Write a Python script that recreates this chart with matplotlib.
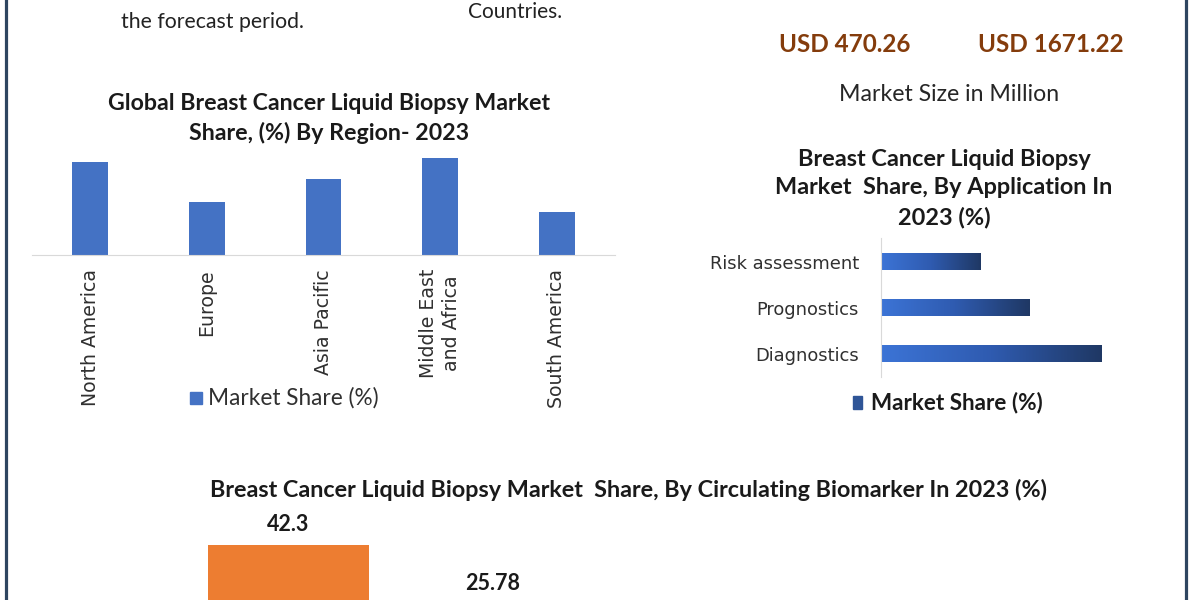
import matplotlib
matplotlib.use("Agg")
import matplotlib.pyplot as plt
import numpy as np
from matplotlib.colors import LinearSegmentedColormap
from matplotlib.patches import Rectangle
from matplotlib.lines import Line2D

# ---------------- data ----------------
region_names = ["North America", "Europe", "Asia Pacific", "Middle East\nand Africa", "South America"]
region_share = [25.7, 14.7, 21.0, 26.7, 11.9]

app_names = ["Diagnostics", "Prognostics", "Risk assessment"]
app_share = [47.1, 31.6, 21.3]

bio_values = [42.3, 25.78]
bio_labels = ["42.3", "25.78"]

W, H = 1200, 600
fig = plt.figure(figsize=(12, 6), dpi=100)
fig.patch.set_facecolor("white")

def fx(x):
    return x / W

def fy(y):
    return 1 - y / H

def axes_px(left, top, right, bottom):
    return fig.add_axes([fx(left), fy(bottom), (right - left) / W, (bottom - top) / H])

TITLE_FONT = "Lato"
BODY_FONT = "DejaVu Sans"

# ---------------- frame lines ----------------
border = "#2E4560"
fig.add_artist(Line2D([fx(6), fx(6)], [0, 1], color=border, lw=2.3))
fig.add_artist(Line2D([fx(1186), fx(1186)], [0, 1], color=border, lw=2.3))

# ---------------- header texts ----------------
fig.text(fx(121), fy(22), "the forecast period.", family=TITLE_FONT, fontsize=15.3,
         color="#222222", ha="left", va="center")
fig.text(fx(468), fy(12), "Countries.", family=TITLE_FONT, fontsize=15,
         color="#222222", ha="left", va="center")
fig.text(fx(845), fy(44), "USD 470.26", family=TITLE_FONT, fontweight="bold", fontsize=17.5,
         color="#843C0C", ha="center", va="center")
fig.text(fx(1051), fy(44), "USD 1671.22", family=TITLE_FONT, fontweight="bold", fontsize=17.5,
         color="#843C0C", ha="center", va="center")
fig.text(fx(949), fy(94), "Market Size in Million", family=TITLE_FONT, fontsize=16.7,
         color="#262626", ha="center", va="center")

# ---------------- region chart ----------------
fig.text(fx(329), fy(118.5), "Global Breast Cancer Liquid Biopsy Market\nShare, (%) By Region- 2023",
         family=TITLE_FONT, fontweight="bold", fontsize=16.7, color="#1a1a1a",
         ha="center", va="center", linespacing=1.4)

ax1 = axes_px(32, 140, 615, 255)
x1 = np.arange(len(region_names))
ax1.bar(x1, region_share, width=36 / 117, color="#4472C4")
ax1.set_xlim(-0.5, len(region_names) - 0.5)
ax1.set_ylim(0, 115 / 3.63)
for s in ["top", "right", "left"]:
    ax1.spines[s].set_visible(False)
ax1.spines["bottom"].set_color("#d9d9d9")
ax1.set_yticks([])
ax1.set_xticks(x1)
ax1.set_xticklabels(region_names, rotation=90, family=BODY_FONT, fontsize=13.6,
                    color="#303030", va="top", ha="center", linespacing=1.3)
ax1.tick_params(axis="x", length=0, pad=10)
ax1.set_facecolor("none")

fig.add_artist(Rectangle((fx(190), fy(404)), 12 / W, 12 / H, transform=fig.transFigure,
                         color="#4472C4"))
fig.text(fx(208), fy(398), "Market Share (%)", family=TITLE_FONT, fontsize=16.3,
         color="#303030", ha="left", va="center")

# ---------------- application chart ----------------
fig.text(fx(944), fy(188.5), "Breast Cancer Liquid Biopsy\nMarket  Share, By Application In\n2023 (%)",
         family=TITLE_FONT, fontweight="bold", fontsize=16.9, color="#1a1a1a",
         ha="center", va="center", linespacing=1.45)

ax2 = axes_px(881, 238, 1110, 377)
y2 = np.arange(len(app_names))
bars = ax2.barh(y2, app_share, height=17 / 46, color="none", edgecolor="none")
cmap = LinearSegmentedColormap.from_list("bluegrad", ["#3C74D6", "#2F5BB0", "#1F3864"])
grad = np.linspace(0, 1, 256).reshape(1, -1)
for b in bars:
    bx, by, bw, bh = b.get_x(), b.get_y(), b.get_width(), b.get_height()
    im = ax2.imshow(grad, extent=[bx, bx + bw, by, by + bh], cmap=cmap, aspect="auto",
                    origin="lower", zorder=2)
    im.set_clip_path(b)
ax2.set_xlim(0, 229 / 4.69)
ax2.set_ylim(-0.5, 2.52)
for s in ["top", "right", "bottom"]:
    ax2.spines[s].set_visible(False)
ax2.spines["left"].set_color("#d9d9d9")
ax2.set_xticks([])
ax2.set_yticks(y2)
ax2.set_yticklabels(app_names, family=BODY_FONT, fontsize=12.9, color="#303030")
ax2.tick_params(axis="y", length=0, pad=16)
ax2.set_facecolor("none")

fig.add_artist(Rectangle((fx(853), fy(409)), 9 / W, 13 / H, transform=fig.transFigure,
                         color="#2F5597"))
fig.text(fx(871), fy(403), "Market Share (%)", family=TITLE_FONT, fontweight="bold",
         fontsize=16.2, color="#1a1a1a", ha="left", va="center")

# ---------------- biomarker chart ----------------
fig.text(fx(628), fy(490),
         "Breast Cancer Liquid Biopsy Market  Share, By Circulating Biomarker In 2023 (%)",
         family=TITLE_FONT, fontweight="bold", fontsize=16.8,
         color="#1a1a1a", ha="center", va="center")

k = 3.57
ax3 = axes_px(185.5, 530, 185.5 + 205 * 4, 696)
x3 = np.arange(len(bio_values))
ax3.bar(x3, bio_values, width=161 / 205, color=["#ED7D31", "#A5A5A5"])
ax3.set_xlim(-0.5, 3.5)
ax3.set_ylim(0, 166 / k)
for i, (v, lab) in enumerate(zip(bio_values, bio_labels)):
    ax3.annotate(lab, (i, v), xytext=(0, 7.5), textcoords="offset points",
                 ha="center", va="bottom", family=TITLE_FONT,
                 fontweight="bold", fontsize=15.5, color="#1a1a1a")
ax3.axis("off")

fig.savefig("out.png", dpi=100, facecolor="white")
